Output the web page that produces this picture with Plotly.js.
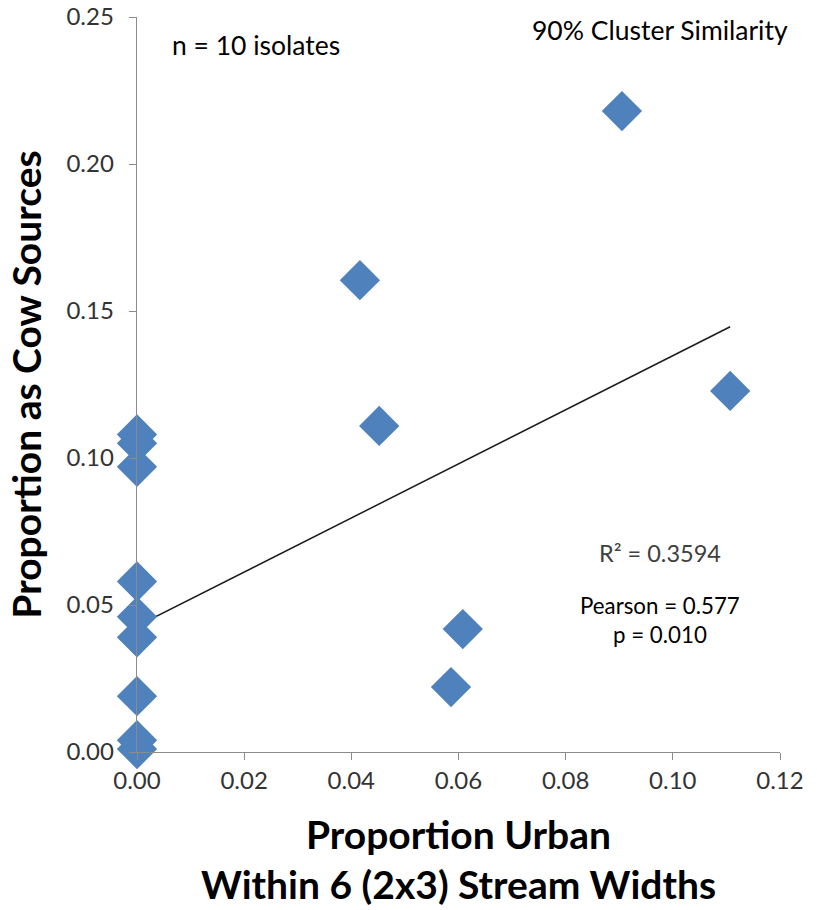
<!DOCTYPE html>
<html>
<head>
<meta charset="utf-8">
<script src="https://cdn.plot.ly/plotly-3.0.1.min.js"></script>
<style>html,body{margin:0;padding:0;background:#fff;}#chart{width:817px;height:910px;}</style>
</head>
<body>
<div id="chart"></div>
<script>
// Data
const urbanProportion = [0, 0, 0, 0, 0, 0, 0, 0, 0, 0.0905, 0.0416, 0.1107, 0.0452, 0.0608, 0.0586];
const cowProportion   = [0.108, 0.105, 0.097, 0.058, 0.046, 0.039, 0.019, 0.004, 0.001, 0.218, 0.1605, 0.1228, 0.1109, 0.0418, 0.0221];
// Trendline as displayed (Excel linear fit)
const trendIntercept = 0.0428;
const trendSlope = 0.92;
const xTicks = [0, 0.02, 0.04, 0.06, 0.08, 0.10, 0.12];
const yTicks = [0, 0.05, 0.10, 0.15, 0.20, 0.25];

const xMin = Math.min(...urbanProportion), xMax = Math.max(...urbanProportion);
const trendX = [xMin, xMax];
const trendY = trendX.map(x => trendIntercept + trendSlope * x);

const font = "Lato, 'Open Sans', sans-serif";

const traces = [
  {
    x: trendX, y: trendY, mode: 'lines', type: 'scatter',
    line: {color: '#1a1a1a', width: 1.5}, hoverinfo: 'skip', cliponaxis: false
  },
  {
    x: urbanProportion, y: cowProportion, mode: 'markers', type: 'scatter',
    marker: {symbol: 'diamond', size: 31, color: '#4F81BD', line: {width: 0}},
    cliponaxis: false
  }
];

const layout = {
  width: 817, height: 910,
  margin: {l: 137, r: 37, t: 17, b: 158},
  paper_bgcolor: '#fff', plot_bgcolor: '#fff',
  showlegend: false,
  font: {family: font, color: '#262626'},
  xaxis: {
    range: [0, 0.12], tickvals: xTicks, tickformat: '.2f',
    showgrid: false, zeroline: false, showline: true, linecolor: '#8c8c8c', linewidth: 1.3,
    ticks: 'outside', ticklen: 7, tickcolor: '#8c8c8c', tickwidth: 1,
    tickfont: {size: 24, family: font, color: '#333333'},
    title: {text: 'Proportion Urban<br>Within 6 (2x3) Stream Widths', font: {size: 39, family: font, color: '#000', weight: 'bold'}, standoff: 28}
  },
  yaxis: {
    range: [0, 0.25], tickvals: yTicks, tickformat: '.2f',
    showgrid: false, zeroline: false, showline: true, linecolor: '#8c8c8c', linewidth: 1.3,
    ticks: 'outside', ticklen: 7, tickcolor: '#8c8c8c', tickwidth: 1,
    ticklabelstandoff: 10,
    tickfont: {size: 24, family: font, color: '#333333'},
    title: {text: 'Proportion as Cow Sources', font: {size: 39, family: font, color: '#000', weight: 'bold'}, standoff: 12}
  },
  annotations: [
    {xref: 'paper', yref: 'paper', x: 0.051, y: 0.962, xanchor: 'left', yanchor: 'middle', showarrow: false,
     text: 'n = 10 isolates', font: {size: 26.5, family: font, color: '#000'}},
    {xref: 'paper', yref: 'paper', x: 1.0156, y: 0.982, xanchor: 'right', yanchor: 'middle', showarrow: false,
     text: '90% Cluster Similarity', font: {size: 26.5, family: font, color: '#000'}},
    {xref: 'paper', yref: 'paper', x: 0.813, y: 0.2707, xanchor: 'center', yanchor: 'middle', showarrow: false,
     text: 'R² = 0.3594', font: {size: 23.5, family: font, color: '#404040'}},
    {xref: 'paper', yref: 'paper', x: 0.813, y: 0.200, xanchor: 'center', yanchor: 'middle', showarrow: false,
     text: 'Pearson = 0.577', font: {size: 22.3, family: font, color: '#000'}},
    {xref: 'paper', yref: 'paper', x: 0.813, y: 0.1605, xanchor: 'center', yanchor: 'middle', showarrow: false,
     text: 'p = 0.010', font: {size: 22.3, family: font, color: '#000'}}
  ]
};

Plotly.newPlot('chart', traces, layout, {displayModeBar: false, staticPlot: true});
</script>
</body>
</html>
